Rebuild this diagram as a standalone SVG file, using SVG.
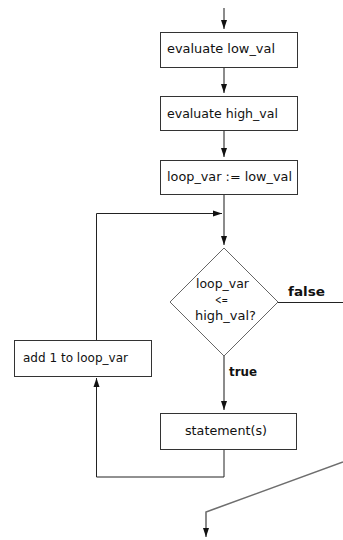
<svg xmlns="http://www.w3.org/2000/svg" width="343" height="540" viewBox="0 0 343 540">
  <defs>
    <style>
      .box { fill: #ffffff; stroke: #333333; stroke-width: 1; }
      .dia { fill: #ffffff; stroke: #666666; stroke-width: 1; }
      .lbl { font-family: "DejaVu Sans", "Liberation Sans", sans-serif; font-size: 11.5px; fill: #111111; }
      .bold { font-family: "DejaVu Sans", "Liberation Sans", sans-serif; font-size: 11.5px; font-weight: bold; fill: #111111; }
      .flow { fill: none; stroke: #6e6e6e; stroke-width: 1.6; }
      .back { fill: none; stroke: #222222; stroke-width: 1; }
      .head { fill: #111111; stroke: none; }
    </style>
    <!-- narrow solid arrowhead shared by all connectors -->
    <marker id="arr" viewBox="0 0 9 7" refX="9" refY="3.5" markerWidth="9" markerHeight="7" markerUnits="userSpaceOnUse" orient="auto">
      <path class="head" d="M0,0.5 L9,3.5 L0,6.5 Z"/>
    </marker>
  </defs>

  <rect width="343" height="540" fill="#ffffff"/>

  <!-- connectors -->
  <g id="connectors">
    <path class="flow" d="M224,8 V29" marker-end="url(#arr)"/>
    <path class="flow" d="M224,67 V93" marker-end="url(#arr)"/>
    <path class="flow" d="M224,130 V157" marker-end="url(#arr)"/>
    <path class="flow" d="M224,195 V245" marker-end="url(#arr)"/>
    <path class="back" d="M96.5,340 V213.5 H222" marker-end="url(#arr)"/>
    <path class="flow" d="M224,356 V410" marker-end="url(#arr)"/>
    <path class="back" d="M224,449 V477 H96.5 V378" marker-end="url(#arr)"/>
    <path class="back" d="M278,302.5 H343"/>
    <path class="flow" d="M343,462 L206,512 V537" marker-end="url(#arr)"/>
    <text class="bold" x="288" y="296" textLength="37" lengthAdjust="spacingAndGlyphs">false</text>
    <text class="bold" x="229" y="376" textLength="28" lengthAdjust="spacingAndGlyphs">true</text>
  </g>

  <g id="eval-low">
    <rect class="box" x="160.5" y="32.5" width="137" height="35"/>
    <text class="lbl" x="167" y="53" textLength="108" lengthAdjust="spacingAndGlyphs">evaluate low_val</text>
  </g>

  <g id="eval-high">
    <rect class="box" x="160.5" y="96.5" width="137" height="34"/>
    <text class="lbl" x="167" y="118" textLength="111" lengthAdjust="spacingAndGlyphs">evaluate high_val</text>
  </g>

  <g id="init">
    <rect class="box" x="160.5" y="160.5" width="137" height="34"/>
    <text class="lbl" x="167" y="181" textLength="125" lengthAdjust="spacingAndGlyphs">loop_var := low_val</text>
  </g>

  <g id="test">
    <polygon class="dia" points="224,248 278,302 224,356 170,302"/>
    <text class="lbl" x="196" y="288" textLength="53" lengthAdjust="spacingAndGlyphs">loop_var</text>
    <text class="lbl" x="215" y="304" textLength="13" lengthAdjust="spacingAndGlyphs">&lt;=</text>
    <text class="lbl" x="195" y="320" textLength="61" lengthAdjust="spacingAndGlyphs">high_val?</text>
  </g>

  <g id="increment">
    <rect class="box" x="14.5" y="340.5" width="137" height="36"/>
    <text class="lbl" x="23" y="362" textLength="105" lengthAdjust="spacingAndGlyphs">add 1 to loop_var</text>
  </g>

  <g id="body">
    <rect class="box" x="160.5" y="413.5" width="136" height="36"/>
    <text class="lbl" x="185" y="435" textLength="82" lengthAdjust="spacingAndGlyphs">statement(s)</text>
  </g>
</svg>
